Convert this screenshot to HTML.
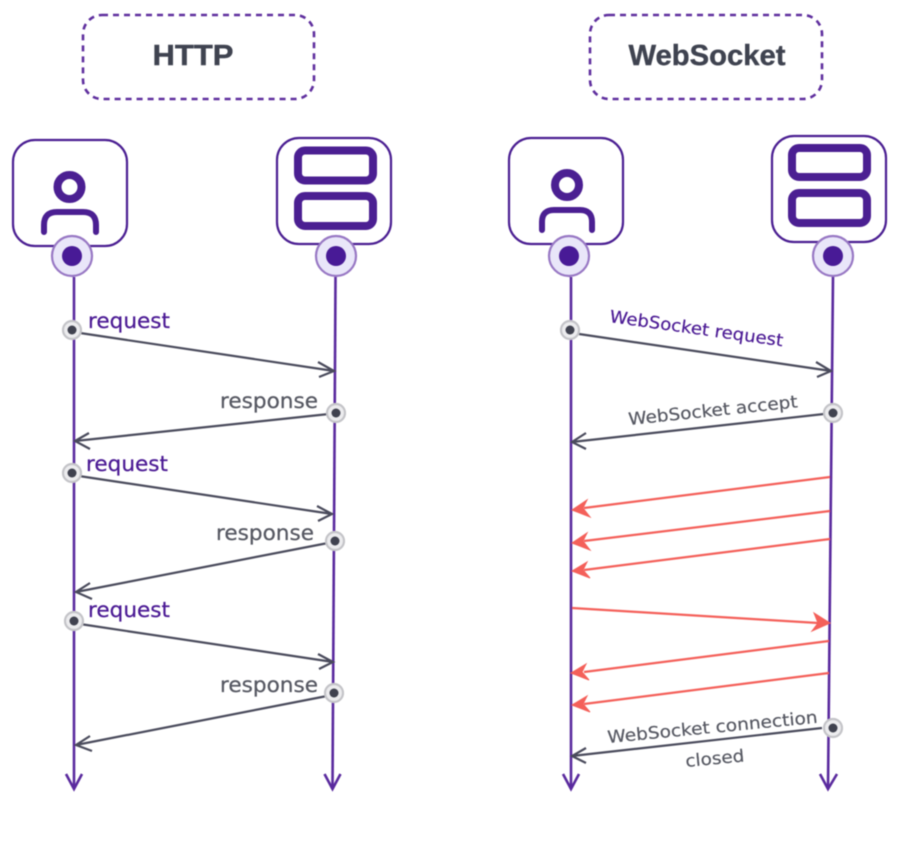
<!DOCTYPE html>
<html><head><meta charset="utf-8"><style>
html,body{margin:0;padding:0;background:#fff}
svg{display:block;filter:blur(.45px)}
text{font-family:"DejaVu Sans",sans-serif}
.t{font-family:"Liberation Sans",sans-serif;font-weight:700;fill:#3f4350;font-size:29px;text-anchor:middle;stroke:#3f4350;stroke-width:.4}
.p{fill:#4b1a94;font-size:21px;stroke:#4b1a94;stroke-width:.25}
.g{fill:#565862;font-size:21px;stroke:#565862;stroke-width:.25}
.p2{fill:#4b1a94;font-size:17px;stroke:#4b1a94;stroke-width:.2}
.g2{fill:#565862;font-size:17px;stroke:#565862;stroke-width:.2}
</style></head><body>
<svg width="908" height="848" viewBox="0 0 908 848" xmlns="http://www.w3.org/2000/svg">
<defs>
<g id="end"><circle r="20" fill="#e9e6f9" stroke="#9878c4" stroke-width="2.2"/><circle r="10" fill="#481a96"/></g>
<g id="dot"><circle r="9" fill="#ececee" stroke="#c4c4c8" stroke-width="2.2"/><circle r="4.500" fill="#40424f"/></g>
</defs>
<rect x="83" y="15" width="231" height="84" rx="19" fill="none" stroke="#5f2f9e" stroke-width="2.6" stroke-dasharray="6 5"/>
<text class="t" x="193" y="65" textLength="81" lengthAdjust="spacingAndGlyphs">HTTP</text>
<rect x="590" y="15" width="232" height="84" rx="19" fill="none" stroke="#5f2f9e" stroke-width="2.6" stroke-dasharray="6 5"/>
<text class="t" x="707" y="65" textLength="157" lengthAdjust="spacingAndGlyphs">WebSocket</text>

<g fill="none" stroke="#4b1f92">
<rect x="13" y="140" width="114" height="106" rx="22" stroke-width="2.2"/>
<rect x="277" y="138" width="114" height="106" rx="22" stroke-width="2.2"/>
<rect x="509" y="138" width="114" height="106" rx="22" stroke-width="2.2"/>
<rect x="772" y="136" width="114" height="106" rx="22" stroke-width="2.2"/>
<circle cx="69.500" cy="187" r="12" stroke-width="8"/>
<path d="M44 232V225Q44 212 57 212H83Q96 212 96 225V232" stroke-width="6" stroke-linecap="round"/>
<circle cx="567" cy="185" r="12" stroke-width="8"/>
<path d="M542 230V222Q542 210 554 210H580Q592 210 592 222V230" stroke-width="6" stroke-linecap="round"/>
<rect x="298" y="150.500" width="75" height="30" rx="7" stroke-width="8"/>
<rect x="298" y="196" width="75" height="30" rx="7" stroke-width="8"/>
<rect x="792" y="148" width="75" height="29" rx="7" stroke-width="8"/>
<rect x="792" y="193" width="75" height="30" rx="7" stroke-width="8"/>
</g>

<g fill="none" stroke="#5a2a9e" stroke-width="2.6">
<path d="M74 277V788"/><path d="M66 774L74 789L82 774"/>
<path d="M335.500 277L332.500 788"/><path d="M324.500 774L332.500 789L340.500 774"/>
<path d="M571 277V788"/><path d="M563 774L571 789L579 774"/>
<path d="M833 277L828 788"/><path d="M820 774L828 789L837 774"/>
</g>
<use href="#end" x="72" y="256"/><use href="#end" x="336" y="256"/>
<use href="#end" x="569" y="256"/><use href="#end" x="833" y="256"/>

<g fill="none" stroke="#4a4b5c" stroke-width="2.2">
<path d="M80 333L334 371M318 362L334 371L319 377"/>
<path d="M329 414L75 441M89 433L75 441L90 449"/>
<path d="M79 476L332 514M317 506L332 514L318 521"/>
<path d="M328 543L76 592M90 583L76 592L92 599"/>
<path d="M80 624L333 662M318 654L333 662L319 669"/>
<path d="M327 696L76 745M90 736L76 745L92 751"/>
<path d="M579 334L831 371M816 362L831 371L817 377"/>
<path d="M824 414L572 442M586 433L572 442L586 449"/>
<path d="M822 728L572 756M586 748L572 756L586 763"/>
</g>
<use href="#dot" x="72" y="330"/><use href="#dot" x="336" y="413"/>
<use href="#dot" x="72" y="473"/><use href="#dot" x="335" y="541"/>
<use href="#dot" x="74" y="621"/><use href="#dot" x="334" y="693"/>
<use href="#dot" x="570" y="330"/><use href="#dot" x="833" y="413"/>
<use href="#dot" x="833" y="728"/>

<g stroke="#f4605a" stroke-width="2.2" fill="#f4605a">
<path d="M830 477L584 508"/><path d="M572 510L587 500L583 508L590 517Z" stroke-width="1"/>
<path d="M830 511L584 541"/><path d="M572 543L587 533L583 541L590 550Z" stroke-width="1"/>
<path d="M830 539L584 570"/><path d="M572 571L587 562L583 570L590 578Z" stroke-width="1"/>
<path d="M572 608L818 623"/><path d="M830 623L814 613L818 623L812 631Z" stroke-width="1"/>
<path d="M829 641L584 672"/><path d="M571 673L586 664L582 672L589 680Z" stroke-width="1"/>
<path d="M829 673L584 704"/><path d="M572 705L587 696L583 704L590 712Z" stroke-width="1"/>
</g>

<text class="p" x="88" y="328" textLength="82" lengthAdjust="spacingAndGlyphs">request</text>
<text class="g" x="220" y="408" textLength="98" lengthAdjust="spacingAndGlyphs">response</text>
<text class="p" x="86" y="471" textLength="82" lengthAdjust="spacingAndGlyphs">request</text>
<text class="g" x="216" y="540" textLength="98" lengthAdjust="spacingAndGlyphs">response</text>
<text class="p" x="88" y="617" textLength="82" lengthAdjust="spacingAndGlyphs">request</text>
<text class="g" x="220" y="692" textLength="98" lengthAdjust="spacingAndGlyphs">response</text>

<text class="p2" transform="translate(609 322) rotate(8)" textLength="175" lengthAdjust="spacingAndGlyphs">WebSocket request</text>
<text class="g2" transform="translate(629 425) rotate(-6)" textLength="170" lengthAdjust="spacingAndGlyphs">WebSocket accept</text>
<text class="g2" transform="translate(608 743) rotate(-5.500)" textLength="211" lengthAdjust="spacingAndGlyphs">WebSocket connection</text>
<text class="g2" transform="translate(686 767) rotate(-5.500)" textLength="59" lengthAdjust="spacingAndGlyphs">closed</text>
</svg>
</body></html>
